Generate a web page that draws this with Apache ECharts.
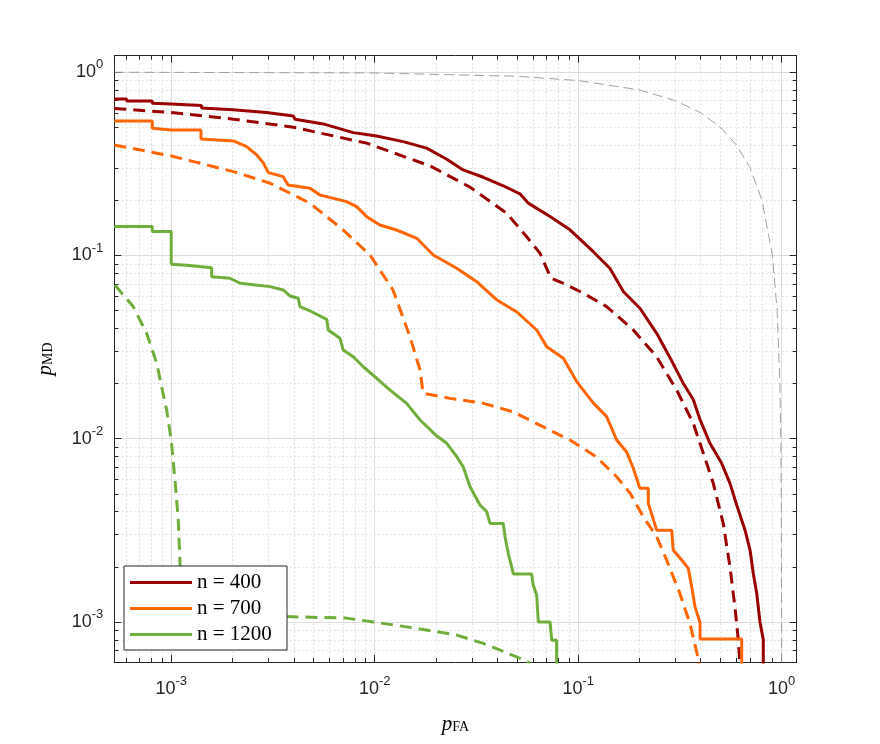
<!DOCTYPE html>
<html>
<head>
<meta charset="utf-8">
<title>ROC</title>
<script src="https://cdn.jsdelivr.net/npm/echarts@6/dist/echarts.min.js"></script>
<style>
  html, body { margin: 0; padding: 0; background: #fff; }
  #main { width: 880px; height: 744px; }
</style>
</head>
<body>
<div id="main"></div>
<script>
// axis limits
var xMin = 5.25e-4, xMax = 1.185;
var yMin = 6.05e-4, yMax = 1.23;

// n = 400, empirical (solid) and theory (dashed)  [pFA, pMD]
var n400Emp = [
    [5.25e-4, 0.715], [6.04e-4, 0.715], [6.04e-4, 0.697], [8.07e-4, 0.697], [8.07e-4, 0.677],
    [1.00e-3, 0.671], [1.41e-3, 0.657], [1.41e-3, 0.638], [2.01e-3, 0.623], [2.94e-3, 0.602],
    [3.98e-3, 0.577], [4.06e-3, 0.554], [5.59e-3, 0.522], [7.84e-3, 0.468], [1.02e-2, 0.449],
    [1.38e-2, 0.418], [1.80e-2, 0.385], [2.26e-2, 0.335], [2.72e-2, 0.293], [3.42e-2, 0.267],
    [4.28e-2, 0.240], [5.17e-2, 0.217], [5.68e-2, 0.193], [7.27e-2, 0.163], [9.11e-2, 0.138],
    [0.119, 0.1045], [0.143, 0.0851], [0.167, 0.0634], [0.201, 0.0515], [0.243, 0.0376],
    [0.283, 0.0276], [0.328, 0.0201], [0.368, 0.0163], [0.397, 0.0127], [0.444, 0.00944],
    [0.507, 0.00734], [0.557, 0.00571], [0.601, 0.00435], [0.660, 0.00318], [0.699, 0.00247],
    [0.725, 0.00184], [0.754, 0.00143], [0.782, 0.00100], [0.812, 0.00080], [0.812, 0.0005]
];
var n400Theory = [
    [5.25e-4, 0.6345], [1.00e-3, 0.602], [2.02e-3, 0.554], [3.98e-3, 0.501], [9.13e-3, 0.410],
    [1.87e-2, 0.308], [2.94e-2, 0.236], [4.45e-2, 0.170], [5.58e-2, 0.1266], [6.49e-2, 0.1028],
    [7.35e-2, 0.0751], [8.45e-2, 0.0705], [0.106, 0.0622], [0.138, 0.0526], [0.1865, 0.0392],
    [0.243, 0.0280], [0.305, 0.0184], [0.368, 0.0121], [0.428, 0.00734], [0.461, 0.00571],
    [0.516, 0.00345], [0.557, 0.0020], [0.589, 0.00121], [0.612, 0.000796], [0.630, 0.0005]
];

// n = 700
var n700Emp = [
    [5.25e-4, 0.542], [8.07e-4, 0.542], [8.07e-4, 0.4946], [1.00e-3, 0.484], [1.40e-3, 0.484],
    [1.40e-3, 0.4324], [2.02e-3, 0.4217], [2.35e-3, 0.3925], [2.63e-3, 0.3536], [2.83e-3, 0.321],
    [3.00e-3, 0.283], [3.55e-3, 0.2692], [3.75e-3, 0.2425], [4.81e-3, 0.2327], [5.38e-3, 0.2138],
    [7.28e-3, 0.1966], [8.15e-3, 0.1847], [9.13e-3, 0.1628], [1.06e-2, 0.1467], [1.28e-2, 0.1377],
    [1.61e-2, 0.1241], [1.94e-2, 0.1006], [2.53e-2, 0.0851], [3.17e-2, 0.0719], [3.98e-2, 0.0572],
    [4.98e-2, 0.0493], [6.25e-2, 0.0392], [7.00e-2, 0.0318], [8.45e-2, 0.0275], [9.83e-2, 0.0205],
    [0.119, 0.0156], [0.138, 0.0132], [0.1545, 0.00984], [0.173, 0.00846], [0.1865, 0.0069],
    [0.201, 0.00536], [0.221, 0.00536], [0.221, 0.00444], [0.243, 0.00317], [0.288, 0.00317],
    [0.293, 0.00247], [0.3225, 0.00218], [0.3475, 0.00196], [0.361, 0.00156], [0.375, 0.00121],
    [0.397, 0.00099], [0.397, 0.000807], [0.636, 0.000807], [0.636, 0.0005]
];
var n700Theory = [
    [5.25e-4, 0.401], [1.00e-3, 0.349], [2.02e-3, 0.2867], [3.06e-3, 0.2478], [4.81e-3, 0.1927],
    [7.00e-3, 0.1377], [9.48e-3, 0.1006], [1.23e-2, 0.0648], [1.49e-2, 0.0360], [1.67e-2, 0.0237],
    [1.73e-2, 0.0177], [2.34e-2, 0.0166], [3.42e-2, 0.0156], [4.80e-2, 0.0140], [7.54e-2, 0.0109],
    [9.11e-2, 0.00984], [0.123, 0.00795], [0.1545, 0.0062], [0.180, 0.00504], [0.209, 0.00375],
    [0.243, 0.00292], [0.272, 0.00218], [0.316, 0.00143], [0.354, 0.00098], [0.389, 0.000633],
    [0.400, 0.0005]
];

// n = 1200
var n1200Emp = [
    [5.25e-4, 0.1437], [8.07e-4, 0.1437], [8.07e-4, 0.1349], [1.00e-3, 0.1349], [1.00e-3, 0.0895],
    [1.19e-3, 0.0884], [1.58e-3, 0.0858], [1.58e-3, 0.0766], [1.94e-3, 0.0751], [2.18e-3, 0.0705],
    [3.06e-3, 0.0676], [3.55e-3, 0.0648], [3.83e-3, 0.0601], [4.21e-3, 0.0584], [4.29e-3, 0.0526],
    [4.90e-3, 0.0493], [5.81e-3, 0.0448], [5.91e-3, 0.0392], [6.75e-3, 0.0353], [7.00e-3, 0.0305],
    [7.84e-3, 0.0280], [8.79e-3, 0.0247], [1.02e-2, 0.0214], [1.19e-2, 0.0184], [1.435e-2, 0.0156],
    [1.67e-2, 0.01265], [2.02e-2, 0.01034], [2.26e-2, 0.00944], [2.53e-2, 0.00798], [2.72e-2, 0.00704],
    [2.94e-2, 0.00547], [3.29e-2, 0.00435], [3.55e-2, 0.0040], [3.685e-2, 0.00345], [4.28e-2, 0.00345],
    [4.37e-2, 0.00292], [4.53e-2, 0.00237], [4.71e-2, 0.0020], [4.80e-2, 0.00183], [5.90e-2, 0.00183],
    [6.01e-2, 0.00159], [6.25e-2, 0.0014], [6.37e-2, 0.0010], [7.27e-2, 0.0010], [7.41e-2, 0.000796],
    [7.83e-2, 0.000796], [7.83e-2, 0.0005]
];
var n1200Theory = [
    [5.29e-4, 0.069], [6.50e-4, 0.0526], [7.57e-4, 0.0376], [8.48e-4, 0.0258], [9.49e-4, 0.01434],
    [1.00e-3, 0.00984], [1.043e-3, 0.00595], [1.083e-3, 0.0036], [1.104e-3, 0.00209], [1.13e-3, 0.0014],
    [1.24e-3, 0.00116], [1.94e-3, 0.0011], [3.70e-3, 0.00107], [7.28e-3, 0.00105], [9.83e-3, 0.0010],
    [1.61e-2, 0.000923], [2.53e-2, 0.000848], [3.42e-2, 0.000764], [4.98e-2, 0.000646], [5.79e-2, 0.000597]
];

// chance line (grey dashed)
var chanceLine = [
    [5.25e-4, 0.9995], [0.01, 0.99], [0.05, 0.95], [0.1, 0.9], [0.2, 0.8], [0.3, 0.7], [0.4, 0.6],
    [0.5, 0.5], [0.6, 0.4], [0.7, 0.3], [0.8, 0.2], [0.9, 0.1], [0.95, 0.05], [0.98, 0.02],
    [0.99, 0.01], [0.995, 0.005], [0.999, 0.001], [0.9995, 0.0005]
];

var legendNames = ['n = 400', 'n = 700', 'n = 1200'];
var colors = ['#990000', '#ff6600', '#6fae3a'];

var axisColor = '#262626';

function powLabel(v) {
    var e = Math.round(Math.log10(v));
    return '{b|10}{s|' + e + '}';
}

var labelRich = {
    b: {fontSize: 18, fontFamily: 'Liberation Sans', color: axisColor},
    s: {fontSize: 13, fontFamily: 'Liberation Sans', color: axisColor, padding: [0, 0, 15, 0]}
};
var nameRich = {
    p: {fontSize: 21, fontFamily: 'Liberation Serif', fontStyle: 'italic', color: '#000'},
    s: {fontSize: 14, fontFamily: 'Liberation Serif', color: '#000', padding: [5, 0, 0, 0]}
};

function logAxis(min, max, extra) {
    var ax = {
        type: 'log',
        logBase: 10,
        min: min,
        max: max,
        axisLine: {show: true, onZero: false, lineStyle: {color: axisColor, width: 1}},
        axisTick: {show: true, inside: true, length: 7, lineStyle: {color: axisColor}},
        minorTick: {show: true, splitNumber: 9, length: 4, lineStyle: {color: axisColor}},
        splitLine: {show: false},
        minorSplitLine: {show: false},
        axisLabel: {show: false}
    };
    for (var k in extra) ax[k] = extra[k];
    return ax;
}

var mainSplit = {show: true, lineStyle: {color: '#dedede', width: 1}};
var minorSplit = {show: true, lineStyle: {color: '#c8c8c8', width: 1, type: [1, 3]}};

var myChart = echarts.init(document.getElementById('main'));

myChart.setOption({
    animation: false,
    backgroundColor: '#fff',
    grid: {left: 114.3, right: 83.3, top: 55.7, bottom: 82, containLabel: false, outerBoundsMode: 'none'},
    legend: {
        data: legendNames,
        orient: 'vertical',
        left: 124,
        top: 566,
        icon: 'rect',
        itemWidth: 62,
        itemHeight: 3,
        itemGap: 5,
        padding: [6, 6, 5, 6],
        backgroundColor: '#fff',
        borderColor: axisColor,
        borderWidth: 1,
        borderRadius: 0,
        textStyle: {fontFamily: 'Liberation Serif', fontSize: 21, lineHeight: 21, color: '#000', width: 84}
    },
    xAxis: [
        logAxis(xMin, xMax, {
            position: 'bottom',
            splitLine: mainSplit,
            minorSplitLine: minorSplit,
            axisLabel: {show: true, margin: 13, formatter: powLabel, rich: labelRich,
                showMinLabel: false, showMaxLabel: false},
            name: '{p|p}{s|FA}',
            nameLocation: 'middle',
            nameGap: 52,
            nameTextStyle: {rich: nameRich}
        }),
        logAxis(xMin, xMax, {position: 'top'})
    ],
    yAxis: [
        logAxis(yMin, yMax, {
            position: 'left',
            splitLine: mainSplit,
            minorSplitLine: minorSplit,
            axisLabel: {show: true, margin: 11, formatter: powLabel, rich: labelRich,
                showMinLabel: false, showMaxLabel: false},
            name: '{p|p}{s|MD}',
            nameLocation: 'middle',
            nameGap: 58,
            nameTextStyle: {rich: nameRich}
        }),
        logAxis(yMin, yMax, {position: 'right'})
    ],
    series: [
        {name: 'chance', type: 'line', data: chanceLine, symbol: 'none', z: 1,
            lineStyle: {color: '#a0a0a0', width: 1, type: [10, 5]}},
        {name: 'n = 400 theory', type: 'line', data: n400Theory, symbol: 'none',
            lineStyle: {color: colors[0], width: 3, type: [12, 7]}},
        {name: 'n = 700 theory', type: 'line', data: n700Theory, symbol: 'none',
            lineStyle: {color: colors[1], width: 3, type: [12, 7]}},
        {name: 'n = 1200 theory', type: 'line', data: n1200Theory, symbol: 'none',
            lineStyle: {color: colors[2], width: 3, type: [12, 7]}},
        {name: legendNames[0], type: 'line', data: n400Emp, symbol: 'none',
            lineStyle: {color: colors[0], width: 3}, itemStyle: {color: colors[0]}},
        {name: legendNames[1], type: 'line', data: n700Emp, symbol: 'none',
            lineStyle: {color: colors[1], width: 3}, itemStyle: {color: colors[1]}},
        {name: legendNames[2], type: 'line', data: n1200Emp, symbol: 'none',
            lineStyle: {color: colors[2], width: 3}, itemStyle: {color: colors[2]}}
    ]
});
</script>
</body>
</html>
